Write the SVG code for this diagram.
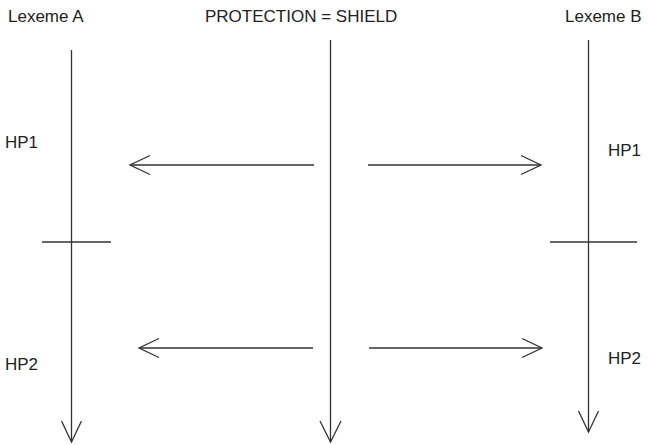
<svg xmlns="http://www.w3.org/2000/svg" width="649" height="445" viewBox="0 0 649 445">
<style>
text{font-family:"Liberation Sans",Arial,sans-serif;font-size:17px;fill:#222}
line,polyline{stroke:#333;stroke-width:1.3;fill:none}
</style>
<rect width="649" height="445" fill="#fff"/>
<g id="lexemeA">
<text x="8" y="22">Lexeme A</text>
<line x1="71.5" y1="50" x2="71.5" y2="442"/>
<polyline points="61.5,421 71.5,442 81.5,421"/>
<line x1="42" y1="242" x2="111" y2="242"/>
<text x="5" y="148">HP1</text>
<text x="5" y="370">HP2</text>
</g>
<g id="protection">
<text x="205" y="22">PROTECTION = SHIELD</text>
<line x1="330.5" y1="40" x2="330.5" y2="442"/>
<polyline points="320,421 330.5,442 341,421"/>
</g>
<g id="lexemeB">
<text x="565" y="22">Lexeme B</text>
<line x1="588.5" y1="40" x2="588.5" y2="432"/>
<polyline points="578.5,411 588.5,432 598.5,411"/>
<line x1="550" y1="242" x2="637" y2="242"/>
<text x="608" y="156">HP1</text>
<text x="608" y="364">HP2</text>
</g>
<g id="connectors">
<line x1="314" y1="165" x2="130" y2="165"/>
<polyline points="150,155.5 130,165 150,174.5"/>
<line x1="368" y1="165" x2="541" y2="165"/>
<polyline points="521,155.5 541,165 521,174.5"/>
<line x1="313" y1="348" x2="139" y2="348"/>
<polyline points="159,338.5 139,348 159,357.5"/>
<line x1="369" y1="348" x2="542" y2="348"/>
<polyline points="522,338.5 542,348 522,357.5"/>
</g>
</svg>
